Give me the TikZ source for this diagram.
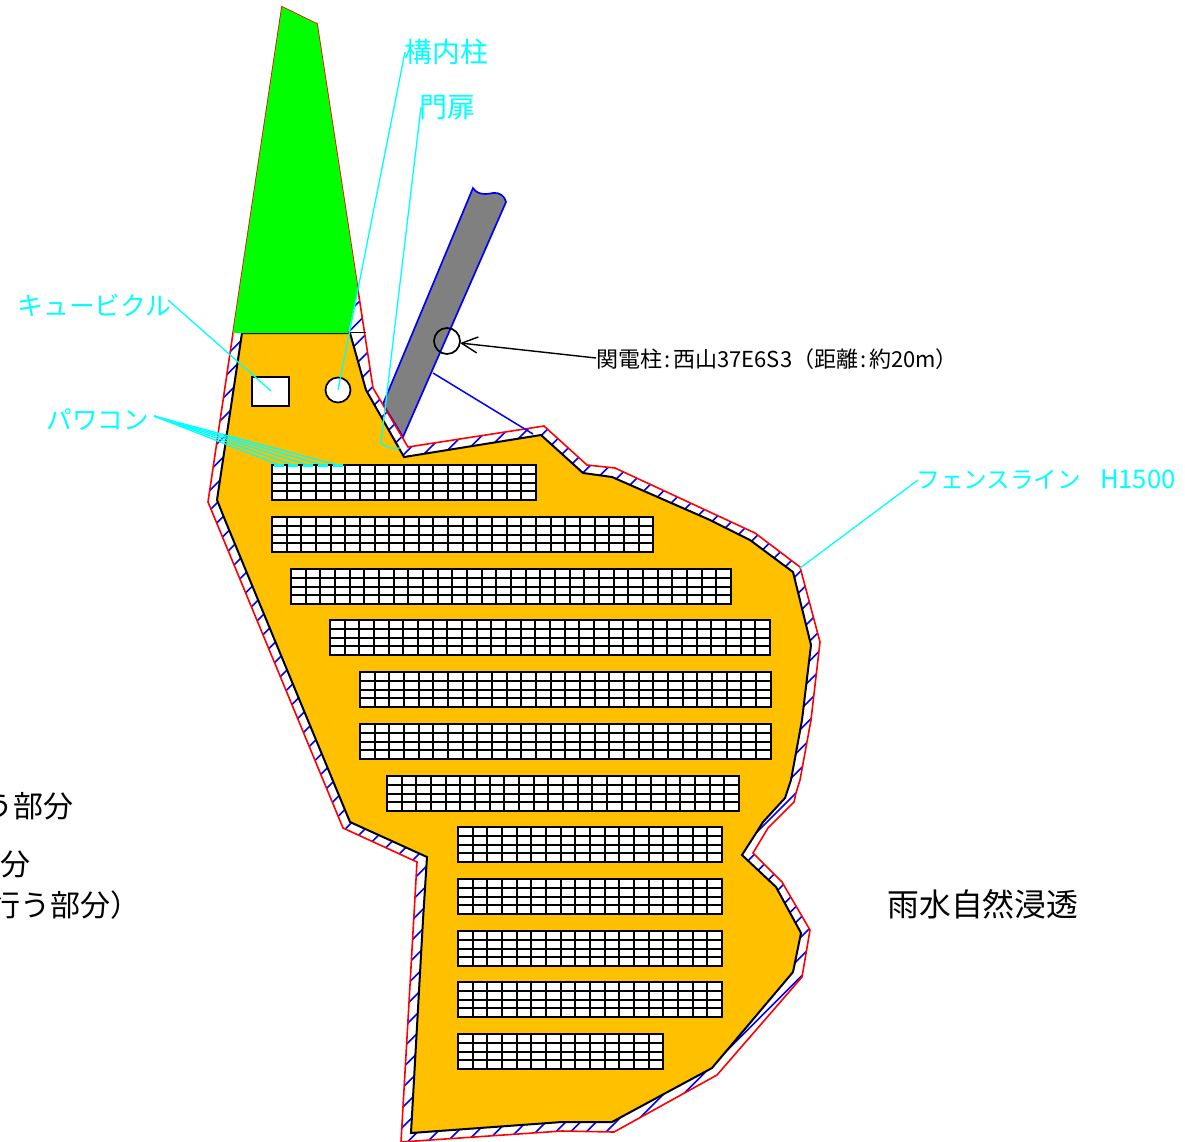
\documentclass[tikz,border=0pt]{standalone}
\usepackage{fontspec}
\setmainfont{Noto Sans CJK JP}
\usetikzlibrary{arrows.meta}
\definecolor{siteorange}{HTML}{FFC000}
\definecolor{leadcyan}{HTML}{00FFFF}
\definecolor{roadgray}{HTML}{808080}
\tikzset{
  redline/.style={draw=red,line width=0.8pt,line join=miter},
  siteline/.style={draw=black,line width=1pt,fill=siteorange},
  hatchline/.style={draw=blue,line width=0.8pt},
  leader/.style={draw=leadcyan,line width=0.65pt},
  cyanlabel/.style={text=leadcyan,inner sep=0pt,anchor=west},
  blacklabel/.style={text=black,inner sep=0pt},
  equipbox/.style={draw=black,line width=0.85pt,fill=white,inner sep=0pt},
  panelgrid/.style={draw=black,line width=0.9pt,fill=white},
  pcsmark/.style={draw=leadcyan,line width=0.5pt,fill=leadcyan},
}
\newcommand{\redpoly}{(358,290) -- (373,388) -- (408,447) -- (544,426) -- (587,465) -- (615,468) -- (755,533) -- (800,567) -- (820,642) -- (811,720) -- (800,780) -- (796,793) -- (794,802) -- (768,828) -- (753,853) -- (782,882) -- (810,930) -- (802,977) -- (717,1075) -- (614,1132) -- (562,1131) -- (401,1142) -- (408,1020) -- (417,862) -- (343,828) -- (208,502) -- (233,333) -- (282,7) -- (317,24) -- cycle}
\newcommand{\sitepoly}{(242,333) -- (217,500) -- (225,520) -- (350,822) -- (427,857) -- (423,920) -- (411,1133) -- (562,1122) -- (612,1122) -- (712,1068) -- (793,972) -- (801,933) -- (776,887) -- (742,855) -- (758,830) -- (763,822) -- (785,798) -- (791,780) -- (802,720) -- (811,645) -- (793,572) -- (750,540) -- (710,520) -- (612,477) -- (583,473) -- (541,435) -- (404,457) -- (366,390) -- (350,333) -- cycle}
\begin{document}
\begin{tikzpicture}[x=0.5pt,y=-0.5pt]
\useasboundingbox (0,0) rectangle (1185,1142);
\clip (0,0) rectangle (1185,1142);
\fill[white] (0,0) rectangle (1185,1142);
% hatching in the fence band
\begin{scope}
  \clip \redpoly;
  \foreach \k in {0,...,74} {
    \pgfmathsetmacro{\c}{502.8+19.75*\k-(\k>=62?9:(\k==61?5:0))}
    \draw[hatchline] (\c,0) -- (0,\c);
  }
\end{scope}
% road
\path[fill=roadgray,draw=blue,line width=0.85pt] (473,188) .. controls (478,196) and (488,194) .. (493,193) .. controls (499,192) and (505,196) .. (506,202) -- (403,437) -- (383,404) -- cycle;
\draw[redline] \redpoly;
\coordinate (rbranch1) at (433,373);
\coordinate (rbranch2) at (533,434);
\draw[draw=blue,line width=0.75pt] (rbranch1) -- (rbranch2);
% site
\path[siteline] \sitepoly;
\draw[black,line width=0.7pt] (350,332.5) -- (366,332.5);
% green area
\fill[green] (282,7) -- (317,24) -- (358,290) -- (348,333) -- (233,333) -- cycle;
% panels
\foreach \n/\xa/\ya/\cols in {1/272/465/18,2/272/517/26,3/291/569/30,4/330/620/30,5/360/672/28,6/360/724/28,7/387/776/24,8/458/827/18,9/458/879/18,10/458/931/18,11/458/982/18,12/458/1034/14}{
  \pgfmathsetmacro{\xb}{round(\xa+14.67*\cols)}
  \path[panelgrid] (\xa,\ya) rectangle (\xb,\ya+35);
  \foreach \r in {1,2,3}{
    \pgfmathsetmacro{\yr}{round(\ya+8.75*\r)}
    \draw[panelgrid,fill=none] (\xa,\yr) -- (\xb,\yr);}
  \pgfmathtruncatemacro{\last}{\cols-1}
  \foreach \q in {1,...,\last}{
    \pgfmathsetmacro{\xq}{round(\xa+14.67*\q)}
    \draw[panelgrid,fill=none] (\xq,\ya) -- (\xq,\ya+35);}
}
% equipment
\node[equipbox,minimum width=18.5pt,minimum height=14.5pt] (cubicle) at (270.5,391.5) {};
\node[equipbox,circle,minimum size=12.5pt] (pole) at (338,390) {};
\node[draw=black,line width=0.85pt,circle,inner sep=0pt,minimum size=13pt] (kanden) at (447,341) {};
% labels
\node[cyanlabel,font=\fontsize{13.9}{16}\selectfont] (lkonai) at (404,52) {構内柱};
\node[cyanlabel,font=\fontsize{14}{16}\selectfont] (lmon) at (419,108) {門扉};
\node[cyanlabel,font=\fontsize{12.9}{15}\selectfont] (lcub) at (17,305) {キュービクル};
\node[cyanlabel,font=\fontsize{12.8}{15}\selectfont] (lpcs) at (46,420) {パワコン};
\node[cyanlabel,font=\fontsize{11.8}{15}\selectfont] (lfence) at (916,480) {フェンスライン\hspace{9.5pt}{\fontsize{12.8}{15}\selectfont H1500}};
\node[blacklabel,anchor=west,font=\fontsize{11}{13}\selectfont] (lkanden) at (596,359) {関電柱\hspace{1.2pt}:\hspace{1.2pt}西山37E6S3（距離\hspace{1.2pt}:\hspace{1.2pt}約20m）};
\node[blacklabel,anchor=west,font=\fontsize{15.9}{19}\selectfont] (lrain) at (887,904) {雨水自然浸透};
\node[blacklabel,anchor=east,font=\fontsize{15}{18}\selectfont] (lcut1) at (74,806) {う部分};
\node[blacklabel,anchor=east,font=\fontsize{15}{18}\selectfont] (lcut2) at (31,864) {分};
\node[blacklabel,anchor=east,font=\fontsize{15}{18}\selectfont] (lcut3) at (141,905) {行う部分）};
% leaders
\coordinate (c1a) at (405,52); \coordinate (c1b) at (338,390);
\draw[leader] (c1a) -- (c1b);
\coordinate (c2a) at (421,107); \coordinate (c2b) at (381,443); \coordinate (c2c) at (400,448);
\draw[leader] (c2a) -- (c2b) .. controls (386,448) and (393,449) .. (c2c);
\coordinate (c3a) at (168,300); \coordinate (c3b) at (271,391);
\draw[leader] (c3a) -- (c3b);
\coordinate (c4a) at (918,480); \coordinate (c4b) at (800,568);
\draw[leader] (c4a) -- (c4b);
\coordinate (pcsfrom) at (154,416);
\foreach \m/\xm in {1/279,2/292.5,3/307.5,4/322.5,5/337.5}{
  \coordinate (pcs\m) at (\xm,465);
  \draw[leader] (pcsfrom) -- (pcs\m);
  \path[pcsmark] (\xm-4.5,464) rectangle (\xm+4.5,466);
}
\coordinate (arrfrom) at (596,358); \coordinate (arrto) at (460,343);
\draw[black,line width=0.7pt,-{Straight Barb[length=8pt,width=8pt]}] (arrfrom) -- (arrto);
\end{tikzpicture}
\end{document}
